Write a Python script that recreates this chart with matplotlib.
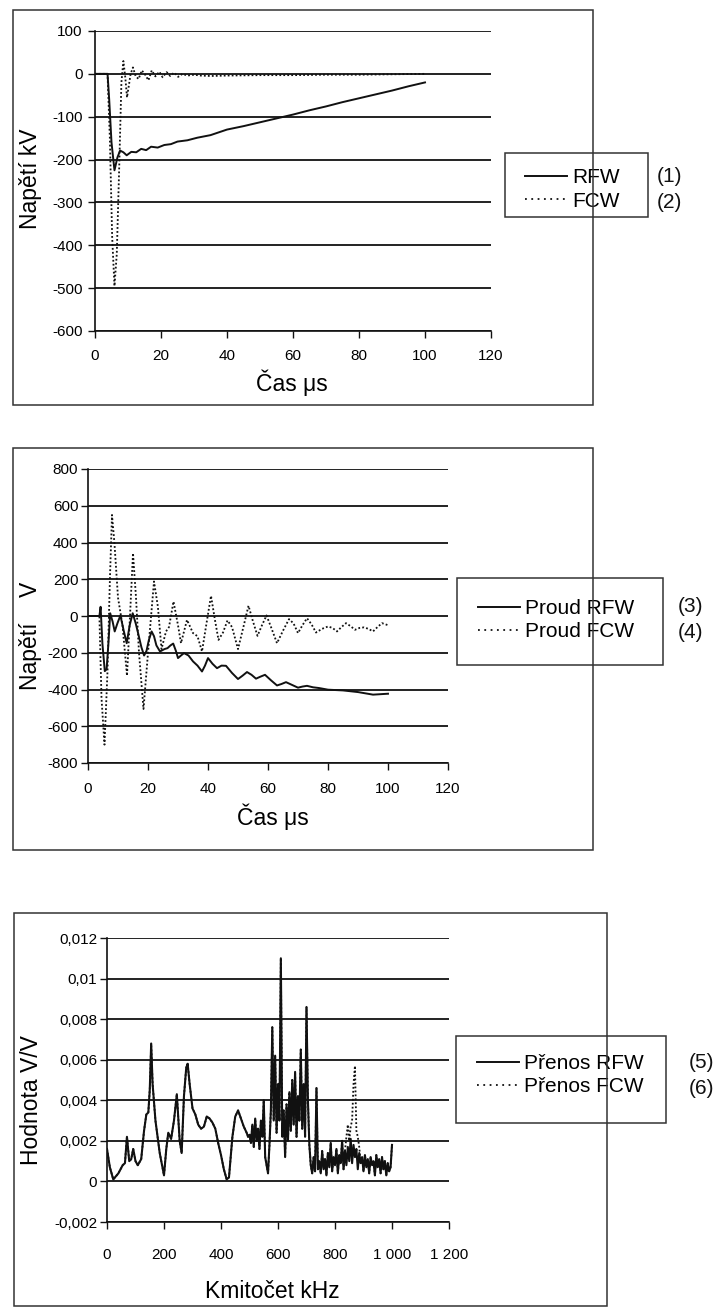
import numpy as np
import matplotlib
matplotlib.use("Agg")
import matplotlib.pyplot as plt
from matplotlib.lines import Line2D
from matplotlib.patches import Rectangle

plt.rcParams['font.family'] = ['Liberation Sans', 'DejaVu Sans']
plt.rcParams['axes.unicode_minus'] = False

# ---------------- data ----------------
# Panel 1: voltage (kV) vs time (us)
t_rfw_v = [0, 3.8, 4.3, 5.0, 5.9, 6.8, 7.6, 8.6, 9.6, 11, 12.5, 14, 15.5, 17, 19, 21,
           23, 25, 28, 31, 35, 40, 45, 50, 55, 60, 65, 70, 75, 80, 85, 90, 95, 100]
u_rfw = [0, 0, -60, -160, -225, -195, -179, -183, -190, -182, -183, -175, -178, -170,
         -172, -166, -164, -158, -155, -149, -143, -130, -122, -113, -104, -95, -85,
         -76, -66, -57, -48, -39, -29, -20]

t_fcw_v = [0, 3.8, 4.5, 5.2, 5.9, 6.6, 7.4, 8.0, 8.6, 9.2, 9.7, 10.2, 10.8, 11.5, 12.3,
           13.2, 14.2, 15.2, 16.2, 17.2, 18.3, 19.5, 20.5, 21.7, 22.8, 24, 25.2, 26.5,
           28, 30, 32, 35, 40, 50, 60, 70, 80, 90, 100]
u_fcw = [0, 0, -150, -380, -495, -420, -200, -20, 30, -10, -55, -30, 0, 15, -5, -12, 8,
         -2, -15, 8, -6, 5, -8, 4, -5, 3, -7, 0, -4, -2, -4, -5, -4, -3, -3, -2, -2, -1, 0]

# Panel 2: current (V) vs time (us)
t_rfw_i = [0, 3.8, 4.2, 4.8, 5.6, 6.2, 6.8, 7.4, 8.2, 8.9,
           9.8, 10.8, 11.9, 12.9, 13.9, 14.9, 15.9, 16.8, 17.8, 18.7,
           19.5, 20.3, 21.2, 22.0, 22.8, 24, 25.5, 26.5, 27.5, 28.4,
           29.3, 30, 31, 32, 33.5, 35, 36.5, 38, 39, 40,
           41.5, 43, 44.5, 46, 48, 50, 51.5, 53, 54.5, 56,
           57.5, 59, 61, 63, 64.5, 66, 68, 70, 71.5, 73,
           75, 77, 80, 85, 90, 95, 100]
i_rfw = [0, 0, 50, -150, -300, -290, -150, 15, -30, -84,
         -40, 3, -80, -148, -50, 15, -40, -100, -170, -215,
         -190, -130, -84, -110, -160, -193, -180, -175, -160, -150,
         -190, -229, -215, -202, -215, -247, -270, -302, -270, -229,
         -260, -284, -270, -271, -310, -343, -325, -305, -320, -341,
         -330, -320, -350, -378, -370, -360, -375, -390, -384, -380,
         -388, -392, -401, -405, -414, -428, -423]

t_fcw_i = [0, 3.8, 4.5, 5.5, 6.5, 7.3, 8.0, 8.8, 10, 11.5, 13, 14, 15, 16, 17, 18.5, 20,
           22, 23.3, 24.5, 26, 27, 28.5, 30, 31, 33, 35, 36.5, 38, 39.5, 41, 42.3, 43.5,
           45, 46.5, 48, 50, 51.8, 53.5, 55, 56.5, 58, 59.5, 61, 63, 65, 67, 68.5, 70,
           71.5, 73, 74.5, 76, 78, 80, 81.5, 83, 84.5, 86, 87.5, 89, 90.5, 92, 93.5, 95,
           96.5, 98, 100]
i_fcw = [0, 0, -447, -700, -300, 200, 550, 400, 100, -50, -325, 0, 342, 100, -200, -506,
         -200, 188, 50, -180, -84, -60, 79, -50, -148, -21, -93, -110, -193, -40, 110,
         -20, -130, -90, -24, -60, -180, -60, 56, -30, -108, -50, 3, -60, -148, -80, -17,
         -40, -93, -50, -12, -45, -90, -70, -57, -65, -84, -60, -39, -55, -75, -65, -62,
         -70, -84, -60, -39, -50]

# Panel 3: transfer (V/V) vs frequency (kHz)
f_low = [0, 10, 22, 40, 55, 63, 70, 78, 85, 92, 100, 108, 120, 130, 138, 145, 150, 155,
         160, 170, 185, 200, 208, 215, 225, 235, 245, 255, 262, 270, 278, 283, 290, 300,
         310, 320, 330, 340, 350, 360, 370, 380, 390, 400, 410, 420, 428, 440, 450, 460,
         470, 480, 490, 495]
h_low = [0.0016, 0.0007, 0.0001, 0.0004, 0.0008, 0.0009, 0.0022, 0.0010, 0.0011, 0.0016,
         0.0010, 0.0008, 0.0011, 0.0025, 0.0033, 0.0034, 0.0045, 0.0068, 0.0048, 0.0030,
         0.0014, 0.0003, 0.0016, 0.0024, 0.0021, 0.0030, 0.0043, 0.0020, 0.0014, 0.0042,
         0.0056, 0.0058, 0.0048, 0.0036, 0.0033, 0.0028, 0.0026, 0.0027, 0.0032, 0.0031,
         0.0029, 0.0026, 0.0019, 0.0013, 0.0006, 0.0001, 0.0002, 0.0022, 0.0032, 0.0035,
         0.0031, 0.0027, 0.0024, 0.0022]
f_high = np.arange(500, 1001, 5)
h_high = [0.0023, 0.0019, 0.0028, 0.0017, 0.0031, 0.0020, 0.0026, 0.0016, 0.0030, 0.0022,
          0.0040, 0.0012, 0.0008, 0.0004, 0.0018, 0.0035, 0.0076, 0.0030, 0.0062, 0.0024,
          0.0048, 0.0030, 0.0110, 0.0022, 0.0035, 0.0012, 0.0038, 0.0020, 0.0044, 0.0025,
          0.0050, 0.0028, 0.0054, 0.0022, 0.0042, 0.0030, 0.0065, 0.0026, 0.0048, 0.0022,
          0.0086, 0.0040, 0.0018, 0.0008, 0.0004, 0.0012, 0.0005, 0.0046, 0.0006, 0.0010,
          0.0004, 0.0015, 0.0006, 0.0011, 0.0003, 0.0014, 0.0007, 0.0019, 0.0005, 0.0012,
          0.0008, 0.0016, 0.0004, 0.0013, 0.0009, 0.0020, 0.0006, 0.0015, 0.0008, 0.0017,
          0.0010, 0.0021, 0.0009, 0.0018, 0.0012, 0.0016, 0.0006, 0.0014, 0.0009, 0.0012,
          0.0005, 0.0013, 0.0007, 0.0011, 0.0004, 0.0012, 0.0008, 0.0010, 0.0003, 0.0013,
          0.0007, 0.0011, 0.0004, 0.0012, 0.0006, 0.0010, 0.0003, 0.0009, 0.0005, 0.0007,
          0.0018]
# FCW transfer differs from RFW around its 870 kHz resonance
f_fcw_peak = [840, 845, 850, 855, 860, 865, 870, 875, 880, 885]
h_fcw_peak = [0.0022, 0.0028, 0.0020, 0.0027, 0.0030, 0.0048, 0.0057, 0.0025, 0.0022, 0.0017]

# axis ticks
ticks_p1_x = [0, 20, 40, 60, 80, 100, 120]
ticks_p1_y = [-600, -500, -400, -300, -200, -100, 0, 100]
ticks_p2_x = [0, 20, 40, 60, 80, 100, 120]
ticks_p2_y = [-800, -600, -400, -200, 0, 200, 400, 600, 800]
ticks_p3_x = [0, 200, 400, 600, 800, 1000, 1200]
ticklabels_p3_x = ['0', '200', '400', '600', '800', '1 000', '1 200']
ticks_p3_y = [-0.002, 0, 0.002, 0.004, 0.006, 0.008, 0.01, 0.012]
ticklabels_p3_y = ['-0,002', '0', '0,002', '0,004', '0,006', '0,008', '0,01', '0,012']

# ---------------- figure ----------------
W, H = 720, 1309
fig = plt.figure(figsize=(W / 100, H / 100), dpi=100)
INK = '#111111'


def px_rect(left, top, right, bottom):
    return [left / W, 1 - bottom / H, (right - left) / W, (bottom - top) / H]


def frame(left, top, right, bottom, lw=1.1):
    fig.add_artist(Rectangle((left / W, 1 - bottom / H), (right - left) / W,
                             (bottom - top) / H, transform=fig.transFigure,
                             fill=False, edgecolor='#333333', lw=lw))


def style_axes(ax, xpad, ypad):
    for side in ('top', 'right'):
        ax.spines[side].set_visible(False)
    for side in ('left', 'bottom'):
        ax.spines[side].set_color(INK)
        ax.spines[side].set_linewidth(1.2)
    ax.yaxis.grid(True, color=INK, lw=1.3)
    ax.xaxis.grid(False)
    ax.set_axisbelow(True)
    ax.tick_params(axis='x', direction='out', length=5, width=1.0, color=INK,
                   labelsize=11, pad=xpad)
    ax.tick_params(axis='y', direction='out', length=5, width=1.0, color=INK,
                   labelsize=11, pad=ypad)


solid = dict(color=INK, lw=1.4, linestyle='-')
dotted = dict(color=INK, lw=1.3, linestyle=(0, (1.0, 1.2)))

legend_kw = dict(frameon=False, borderpad=0, borderaxespad=0, handlelength=2.0,
                 handletextpad=0.25, labelspacing=0.2, prop={'size': 15},
                 loc='center left', bbox_transform=fig.transFigure)


def add_legend(ax, labels, hx, hy):
    handles = [Line2D([], [], **solid),
               Line2D([], [], color=INK, lw=1.3, linestyle=(0, (1.0, 2.5)))]
    ax.legend(handles, labels, bbox_to_anchor=(hx / W, 1 - hy / H), **legend_kw)


def side_text(x, y, s):
    fig.text(x / W, 1 - y / H, s, fontsize=15, va='center', ha='left', color=INK)


# ---- panel 1 ----
frame(13, 10, 593, 405)
ax1 = fig.add_axes(px_rect(95, 31, 491, 331))
ax1.plot(t_rfw_v, u_rfw, **solid)
ax1.plot(t_fcw_v, u_fcw, **dotted)
ax1.set_xlim(0, 120)
ax1.set_ylim(-600, 100)
ax1.set_xticks(ticks_p1_x)
ax1.set_yticks(ticks_p1_y)
style_axes(ax1, 8, 4)
ax1.set_ylabel('Napětí kV', fontsize=16.5)
ax1.set_xlabel('Čas μs', fontsize=16.5)
ax1.yaxis.set_label_coords((31 - 95) / 396, (331 - 179) / 300)
ax1.xaxis.set_label_coords((292 - 95) / 396, (331 - 383) / 300)
ax1.xaxis.label.set_va('center')
ax1.yaxis.label.set_va('center')
add_legend(ax1, ['RFW', 'FCW'], 525, 189.5)
frame(505, 153, 648, 217)
side_text(657, 177, '(1)')
side_text(657, 202, '(2)')

# ---- panel 2 ----
frame(13, 448, 593, 850)
ax2 = fig.add_axes(px_rect(88, 469, 448, 763))
ax2.plot(t_rfw_i, i_rfw, **solid)
ax2.plot(t_fcw_i, i_fcw, **dotted)
ax2.set_xlim(0, 120)
ax2.set_ylim(-800, 800)
ax2.set_xticks(ticks_p2_x)
ax2.set_yticks(ticks_p2_y)
style_axes(ax2, 9, 2)
ax2.set_ylabel('Napětí    V', fontsize=16.5)
ax2.set_xlabel('Čas μs', fontsize=16.5)
ax2.yaxis.set_label_coords((31 - 88) / 360, (763 - 636) / 294)
ax2.xaxis.set_label_coords((273 - 88) / 360, (763 - 817) / 294)
ax2.xaxis.label.set_va('center')
ax2.yaxis.label.set_va('center')
add_legend(ax2, ['Proud RFW', 'Proud FCW'], 478, 620)
frame(457, 578, 663, 665)
side_text(678, 607, '(3)')
side_text(678, 633, '(4)')

# ---- panel 3 ----
f_rfw = np.concatenate([f_low, f_high])
h_rfw = np.concatenate([h_low, h_high])
h_fcw = h_rfw.copy()
for f, h in zip(f_fcw_peak, h_fcw_peak):
    h_fcw[f_rfw == f] = h

frame(14, 913, 607, 1306)
ax3 = fig.add_axes(px_rect(107, 938, 449, 1222))
ax3.plot(f_rfw, h_fcw, **dotted)
ax3.plot(f_rfw, h_rfw, color=INK, lw=1.5)
ax3.set_xlim(0, 1200)
ax3.set_ylim(-0.002, 0.012)
ax3.set_xticks(ticks_p3_x)
ax3.set_xticklabels(ticklabels_p3_x)
ax3.set_yticks(ticks_p3_y)
ax3.set_yticklabels(ticklabels_p3_y)
style_axes(ax3, 14, 2)
ax3.set_ylabel('Hodnota V/V', fontsize=16.5)
ax3.set_xlabel('Kmitočet kHz', fontsize=16.5)
ax3.yaxis.set_label_coords((32 - 107) / 342, (1222 - 1100) / 284)
ax3.xaxis.set_label_coords((272 - 107) / 342, (1222 - 1292) / 284)
ax3.xaxis.label.set_va('center')
ax3.yaxis.label.set_va('center')
add_legend(ax3, ['Přenos RFW', 'Přenos FCW'], 477, 1075)
frame(456, 1036, 666, 1123)
side_text(689, 1062, '(5)')
side_text(689, 1088, '(6)')

fig.savefig('out.png', dpi=100)
